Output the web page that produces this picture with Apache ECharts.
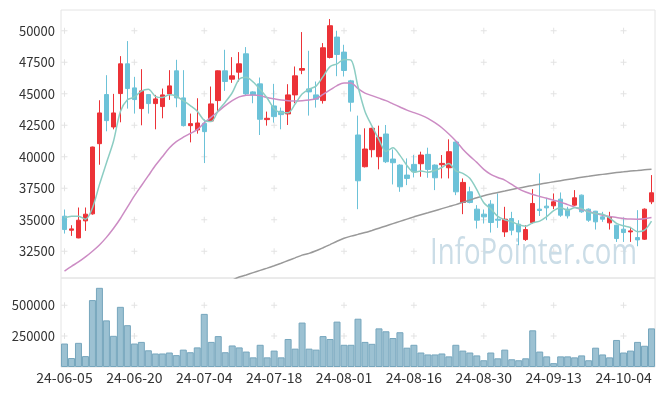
<!DOCTYPE html>
<html>
<head>
<meta charset="utf-8">
<script src="https://cdn.jsdelivr.net/npm/echarts@6/dist/echarts.min.js"></script>
<style>html,body{margin:0;padding:0;background:#fff;}#c{width:665px;height:396px;}</style>
</head>
<body>
<div id="c"></div>
<script>
const dates = ['24-06-05','24-06-07','24-06-10','24-06-11','24-06-12','24-06-13','24-06-14','24-06-17','24-06-18','24-06-19',
'24-06-20','24-06-21','24-06-24','24-06-25','24-06-26','24-06-27','24-06-28','24-07-01','24-07-02','24-07-03',
'24-07-04','24-07-05','24-07-08','24-07-09','24-07-10','24-07-11','24-07-12','24-07-15','24-07-16','24-07-17',
'24-07-18','24-07-19','24-07-22','24-07-23','24-07-24','24-07-25','24-07-26','24-07-29','24-07-30','24-07-31',
'24-08-01','24-08-02','24-08-05','24-08-06','24-08-07','24-08-08','24-08-09','24-08-12','24-08-13','24-08-14',
'24-08-16','24-08-19','24-08-20','24-08-21','24-08-22','24-08-23','24-08-26','24-08-27','24-08-28','24-08-29',
'24-08-30','24-09-02','24-09-03','24-09-04','24-09-05','24-09-06','24-09-09','24-09-10','24-09-11','24-09-12',
'24-09-13','24-09-19','24-09-20','24-09-23','24-09-24','24-09-25','24-09-26','24-09-27','24-09-30','24-10-02',
'24-10-04','24-10-07','24-10-08','24-10-10','24-10-11'];

const opens = [35281,34168,33558,34910,35467,41036,44935,42362,45014,47375,
45465,43821,44935,44219,43980,44988,46818,44670,42468,42124,
42654,42840,44457,46818,46155,46712,48170,45147,45783,42946,
44033,43609,43397,44908,46871,45385,44908,44457,47878,49496,
48303,46022,41726,39207,40559,40002,41805,39816,39339,38544,
39392,39445,40188,39339,39365,39127,41169,36370,37218,35839,
35442,36237,35044,34036,35097,34646,33426,34779,35839,36078,
36104,36635,35839,36158,36953,35839,35680,35230,34752,34567,
34248,34036,33585,33453,36423];

const closes = [34221,34274,34963,35441,40771,43476,42866,43476,47375,45412,
44537,45226,44219,44590,44908,45624,44670,42468,42627,42680,
41991,44192,46818,45969,46420,47375,44988,44908,42972,43052,
43184,43343,44908,46420,47003,45147,44563,48648,50398,48117,
46844,44325,38093,40612,42256,41540,39604,39525,37615,38278,
38809,40135,38995,38331,39472,40400,37217,37961,36370,34964,
35229,34779,34964,35044,34169,34036,34222,36290,35733,35945,
36423,35362,35309,36741,35627,34964,34832,35044,35230,33506,
33983,34116,33400,35839,37139];

const lows = [33902,33717,33530,34115,35400,39366,42018,42177,42734,43821,
43423,42495,43423,42177,43052,44510,43927,42400,41142,41832,
39498,42800,43529,45226,45863,45969,44829,44245,41726,42468,
42707,42177,42521,44245,46552,43264,43900,44219,47800,46393,
46367,43582,35838,39150,39949,39000,39500,37801,37217,37748,
38358,38411,38331,37350,38278,38278,36952,35442,36300,34301,
34699,33983,34354,33638,33771,32975,33320,34699,35300,34964,
35839,35230,35097,36100,35550,34832,34222,34832,34222,33240,
33240,33240,32896,33400,36237];

const highs = [35812,34565,35971,35971,40800,44484,46473,44988,47985,49178,
46340,46950,44960,44908,45412,46871,47693,46871,43423,44643,
42972,45571,46850,48488,47905,48303,48701,45200,46287,43582,
45783,43900,45757,47162,49894,48409,45969,49019,50928,50000,
48886,46100,43264,42256,42300,42468,42521,40585,39400,39869,
40135,40400,40718,39392,40135,41382,41200,38279,37616,36158,
35813,36555,37086,36025,35627,34964,34567,37431,38677,36741,
37086,37165,36025,37351,37000,35900,35700,35627,35627,34600,
35177,34434,35760,35900,38544];

const volumes = [189800,72600,195300,88300,541400,640600,377300,252300,486700,338300,
189800,203100,135200,109400,109400,117200,96100,140600,119500,158600,
429700,203100,250000,119500,174200,158600,125000,78100,179700,78100,
132800,78100,226600,148400,359400,148400,140600,250000,226600,367200,
179700,179700,390600,203100,187500,312500,289000,234400,281300,156300,
179700,117200,101600,101600,109400,86000,179700,132800,117200,93800,
54700,117200,70300,140600,62500,54700,70300,296900,125000,86000,
31300,86000,86000,78100,93800,54700,156300,101600,78100,218800,
117200,132800,203100,171900,312500];

const ma5 = [35149,35282,35282,35043,35934,37785,39503,41206,43593,44521,
44733,45205,45354,44797,44696,44913,44802,44452,44059,43614,
42887,42792,43662,44330,45078,46155,46314,45932,45333,44659,
43821,43492,43492,44181,44972,45364,45608,46356,47152,47375,
47714,47666,45555,43598,42426,41365,40421,40707,40108,39312,
38766,38872,38766,38910,39148,39467,38883,38676,38284,37382,
36348,35861,35261,34996,34837,34598,34487,34752,34890,35245,
35723,35951,35754,35956,35892,35601,35495,35442,35139,34715,
34519,34376,34047,34169,34895];

const ma20 = [30930,31300,31650,32050,32500,33000,33600,34300,35100,36000,
36900,37700,38500,39300,40000,40700,41200,41550,41850,42150,
42700,43150,43600,44050,44450,44750,44880,44900,44850,44700,
44600,44500,44450,44430,44450,44500,44600,44950,45300,45650,
45850,45850,45400,45050,44850,44650,44450,44200,43950,43700,
43500,43300,43050,42700,42300,41800,41250,40600,40050,39550,
39000,38600,38350,38150,37800,37450,37200,37000,36850,36700,
36550,36400,36200,36000,35800,35650,35500,35350,35250,35180,
35100,35050,35040,35080,35180];

const ma120 = ['-','-','-','-','-','-','-','-','-','-',
'-','-','-','-','-','-','-','-','-','-',
'-','-','-','-',30200,30450,30620,30800,30980,31160,
31350,31550,31760,31970,32190,32330,32540,32780,33030,33290,
33530,33700,33840,33980,34150,34330,34510,34690,34870,35050,
35230,35400,35560,35720,35880,36040,36200,36380,36560,36740,
36900,37040,37160,37280,37400,37510,37620,37720,37820,37920,
38010,38100,38190,38280,38370,38450,38530,38600,38670,38740,
38800,38860,38910,38960,39000];

const priceTicks = [32500,35000,37500,40000,42500,45000,47500,50000];
const volumeTicks = [250000,500000];
const labelEvery = 10;
const watermark = 'InfoPointer.com';

const chart = echarts.init(document.getElementById('c'), null, {renderer:'canvas'});

const candleData = opens.map((o,i)=>[o, closes[i], lows[i], highs[i]]);
const crossCols = dates.map((d,i)=>i).filter(i=>i%labelEvery===0);
const priceCross = [];
crossCols.forEach(c=>priceTicks.forEach(v=>priceCross.push([c,v])));
const volCross = [];
crossCols.forEach(c=>volumeTicks.forEach(v=>volCross.push([c,v])));

const crossSym = 'path://M0,2.5h6v1h-6z M2.5,0h1v6h-1z';
const FONT = 'Noto Sans CJK KR';
const GL = 61, GR = 10;

// watermark sizing: fit text into target width
const WM_FONT = '37px "Open Sans", sans-serif';
const cv = document.createElement('canvas').getContext('2d');
cv.font = WM_FONT;
const wmW = cv.measureText(watermark).width;
const wmScale = 207 / wmW;

chart.setOption({
  animation:false,
  backgroundColor:'#fff',
  graphic:[{
    type:'text', x:430, y:253, scaleX:wmScale, scaleY:1, z:1, silent:true,
    style:{text:watermark, fill:'#cbdde7', font:WM_FONT, verticalAlign:'middle', align:'left'}
  }],
  grid:[
    {left:GL, right:GR, top:10, height:268, show:true, borderColor:'#e4e4e4', borderWidth:1, backgroundColor:'transparent'},
    {left:GL, right:GR, top:278, height:89, show:true, borderColor:'#e4e4e4', borderWidth:1, backgroundColor:'transparent'}
  ],
  xAxis:[
    {type:'category', gridIndex:0, data:dates, boundaryGap:true, axisLine:{show:false}, axisTick:{show:false}, axisLabel:{show:false}, splitLine:{show:false}},
    {type:'category', gridIndex:1, data:dates, boundaryGap:true, axisLine:{show:false}, axisTick:{show:false}, splitLine:{show:false},
     axisLabel:{interval:labelEvery-1, color:'#333', fontSize:14, fontFamily:FONT, margin:4}}
  ],
  yAxis:[
    {type:'value', gridIndex:0, min:30376, max:51646, scale:true, axisLine:{show:false}, axisTick:{show:false}, splitLine:{show:false},
     axisLabel:{customValues:priceTicks, formatter:v=>String(v), color:'#333', fontSize:13, fontFamily:FONT, margin:6}},
    {type:'value', gridIndex:1, min:0, max:720000, axisLine:{show:false}, axisTick:{show:false}, splitLine:{show:false},
     axisLabel:{customValues:volumeTicks, formatter:v=>String(v), color:'#333', fontSize:13, fontFamily:FONT, margin:6}}
  ],
  series:[
    {type:'scatter', xAxisIndex:0, yAxisIndex:0, data:priceCross, symbol:crossSym, symbolSize:6, silent:true, z:0,
     itemStyle:{color:'#dcdcdc'}},
    {type:'scatter', xAxisIndex:1, yAxisIndex:1, data:volCross, symbol:crossSym, symbolSize:6, silent:true, z:0,
     itemStyle:{color:'#dcdcdc'}},
    {type:'candlestick', xAxisIndex:0, yAxisIndex:0, data:candleData, barWidth:5,
     itemStyle:{color:'#ec3237', color0:'#6cc2d8', borderColor:'#ec3237', borderColor0:'#6cc2d8', borderWidth:1}},
    {type:'line', xAxisIndex:0, yAxisIndex:0, data:ma120, symbol:'none', smooth:0.3, z:3,
     lineStyle:{color:'#999999', width:1.5}},
    {type:'line', xAxisIndex:0, yAxisIndex:0, data:ma20, symbol:'none', smooth:0.3, z:3,
     lineStyle:{color:'#cc8cc4', width:1.5}},
    {type:'line', xAxisIndex:0, yAxisIndex:0, data:ma5, symbol:'none', smooth:0.3, z:3,
     lineStyle:{color:'#8ccdc3', width:1.5}},
    {type:'bar', xAxisIndex:1, yAxisIndex:1, data:volumes, barWidth:'100%', barCategoryGap:0,
     itemStyle:{color:'#9cc1d2', borderColor:'#76a6bd', borderWidth:1}}
  ]
});
</script>
</body>
</html>
